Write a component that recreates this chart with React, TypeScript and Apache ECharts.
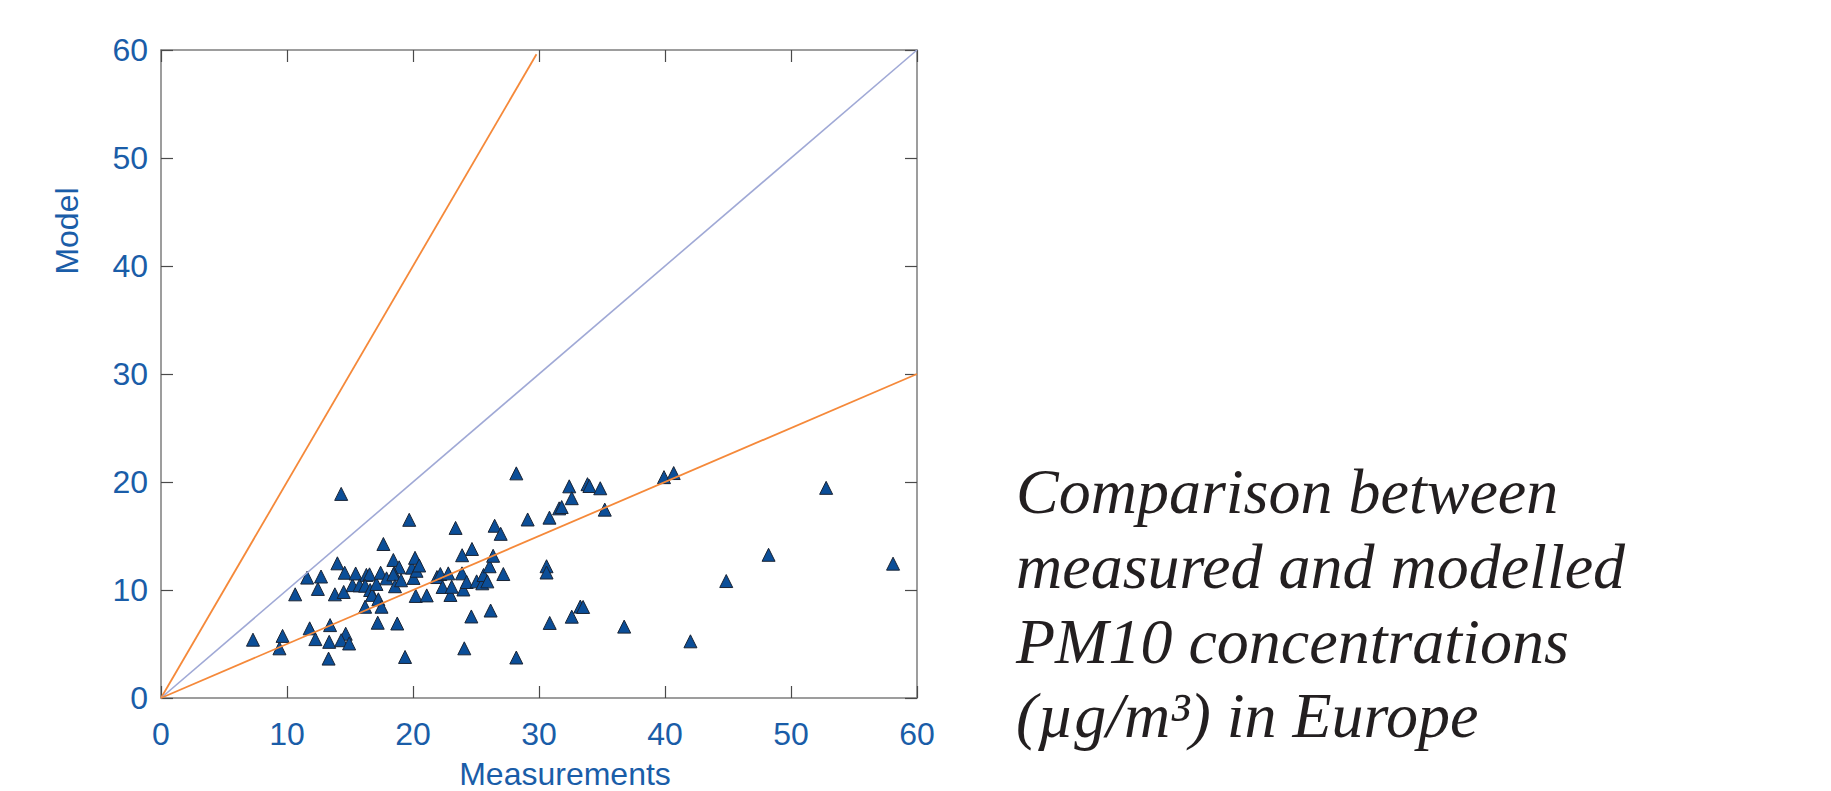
import React, { useEffect, useRef } from "react";
import * as echarts from "echarts";

// Measured (x) vs modelled (y) PM10 concentrations, µg/m3
const measured = [
  7.3, 9.4, 9.65, 10.65, 11.6, 12.45, 12.7, 11.8, 12.25, 13.3,
  13.42, 13.35, 14.3, 14.0, 13.8, 14.5, 14.58, 14.66, 14.3, 14.93,
  15.2, 15.45, 15.76, 16.2, 16.3, 16.55, 16.2, 16.6, 16.75, 17.1,
  17.25, 17.5, 17.2, 17.43, 17.65, 17.9, 18.44, 18.9, 18.5, 18.44,
  18.57, 19.05, 18.75, 19.37, 19.7, 19.92, 20.04, 20.16, 20.28, 20.49,
  20.22, 21.09, 21.9, 22.17, 22.35, 22.8, 22.97, 23.07, 23.38, 23.9,
  23.89, 24.0, 24.26, 24.07, 24.63, 24.68, 25.05, 25.5, 25.6, 25.9,
  26.08, 26.16, 26.36, 26.48, 26.96, 27.17, 28.2, 28.2, 29.1, 30.6,
  30.6, 30.83, 30.85, 31.6, 31.8, 32.4, 32.6, 32.6, 33.28, 33.5,
  33.85, 34.0, 34.86, 35.22, 36.76, 39.92, 40.69, 42.02, 44.86, 48.22,
  52.79, 58.1,
];
const modelled = [
  5.4, 4.6, 5.75, 9.6, 11.15, 10.1, 11.25, 6.45, 5.45, 3.65,
  6.75, 5.2, 18.9, 12.47, 9.6, 9.82, 11.6, 5.95, 5.35, 5.05,
  10.45, 11.53, 10.43, 8.45, 11.4, 11.45, 10.4, 10.0, 9.55, 10.56,
  9.14, 8.45, 6.97, 11.6, 14.26, 11.08, 12.78, 12.1, 11.55, 11.45,
  10.35, 10.9, 6.9, 3.8, 16.5, 12.07, 11.12, 12.98, 11.78, 12.27,
  9.45, 9.5, 11.2, 11.48, 10.28, 11.54, 9.54, 10.3, 15.75, 13.22,
  11.54, 10.05, 10.74, 4.6, 7.55, 13.8, 10.8, 10.62, 11.39, 10.8,
  12.2, 8.1, 13.17, 15.95, 15.2, 11.48, 20.8, 3.75, 16.53, 12.2,
  11.62, 16.7, 6.95, 17.56, 17.68, 19.6, 18.5, 7.53, 8.47, 8.43,
  19.8, 19.63, 19.42, 17.44, 6.61, 20.45, 20.83, 5.25, 10.83, 13.26,
  19.46, 12.44,
];

// Reference lines: factor-of-two bounds and the 1:1 line
const upperFactorLine = [[0, 0], [29.8, 59.6]];
const oneToOneLine = [[0, 0], [60, 60]];
const lowerFactorLine = [[0, 0], [60, 30]];

const axisMin = 0;
const axisMax = 60;
const axisInterval = 10;

const xAxisTitle = "Measurements";
const yAxisTitle = "Model";
const captionLines = [
  "Comparison between",
  "measured and modelled",
  "PM10 concentrations",
  "(µg/m³) in Europe",
];

const LABEL_BLUE = "#1a5da8";
const AXIS_GREY = "#7d7d7d";
const TICK_GREY = "#4a4a4a";

export default function App() {
  const ref = useRef<HTMLDivElement>(null);

  useEffect(() => {
    if (!ref.current) return;
    const chart = echarts.init(ref.current, null, { renderer: "svg" });

    const points = measured.map((x, i) => [x, modelled[i]]);

    const baseAxis = (pos: string, showLabels: boolean) => ({
      type: "value",
      position: pos,
      min: axisMin,
      max: axisMax,
      interval: axisInterval,
      axisLine: { show: true, onZero: false, lineStyle: { color: AXIS_GREY, width: 1.5 } },
      axisTick: { show: true, inside: true, length: 12, lineStyle: { color: TICK_GREY, width: 1.2 } },
      splitLine: { show: false },
      axisLabel: {
        show: showLabels,
        color: LABEL_BLUE,
        fontSize: 32,
        fontFamily: "Liberation Sans",
        margin: pos === "bottom" ? 20 : 13,
      },
    });

    const lineSeries = (data: number[][], color: string, width: number) => ({
      type: "line",
      data,
      symbol: "none",
      z: 5,
      lineStyle: { color, width },
      silent: true,
    });

    chart.setOption({
      animation: false,
      backgroundColor: "#ffffff",
      grid: { left: 161, top: 50, width: 756, height: 648, containLabel: false },
      xAxis: [baseAxis("bottom", true), baseAxis("top", false)],
      yAxis: [baseAxis("left", true), baseAxis("right", false)],
      series: [
        {
          type: "scatter",
          data: points,
          symbol: "triangle",
          symbolSize: [13, 13],
          z: 3,
          itemStyle: { color: "#0b4e98", borderColor: "#1a2434", borderWidth: 1, opacity: 1 },
        },
        lineSeries(upperFactorLine, "#f5893a", 1.8),
        lineSeries(oneToOneLine, "#a0a9d6", 1.6),
        lineSeries(lowerFactorLine, "#f5893a", 1.8),
      ],
      graphic: [
        {
          type: "text",
          x: 565,
          y: 774,
          style: {
            text: xAxisTitle,
            fill: LABEL_BLUE,
            fontSize: 32,
            fontFamily: "Liberation Sans",
            align: "center",
            verticalAlign: "middle",
          },
        },
        {
          type: "text",
          x: 67,
          y: 231,
          rotation: Math.PI / 2,
          style: {
            text: yAxisTitle,
            fill: LABEL_BLUE,
            fontSize: 32,
            fontFamily: "Liberation Sans",
            align: "center",
            verticalAlign: "middle",
          },
        },
        ...captionLines.map((line, i) => ({
          type: "text",
          x: 1016,
          y: 491.6 + i * 74.7,
          style: {
            text: line,
            fill: "#231f20",
            fontSize: 64,
            fontStyle: "italic",
            fontFamily: "Liberation Serif",
            align: "left",
            verticalAlign: "middle",
          },
        })),
      ],
    });

    return () => chart.dispose();
  }, []);

  return (
    <div
      ref={ref}
      style={{ position: "absolute", left: 0, top: 0, width: 1831, height: 791 }}
    />
  );
}
